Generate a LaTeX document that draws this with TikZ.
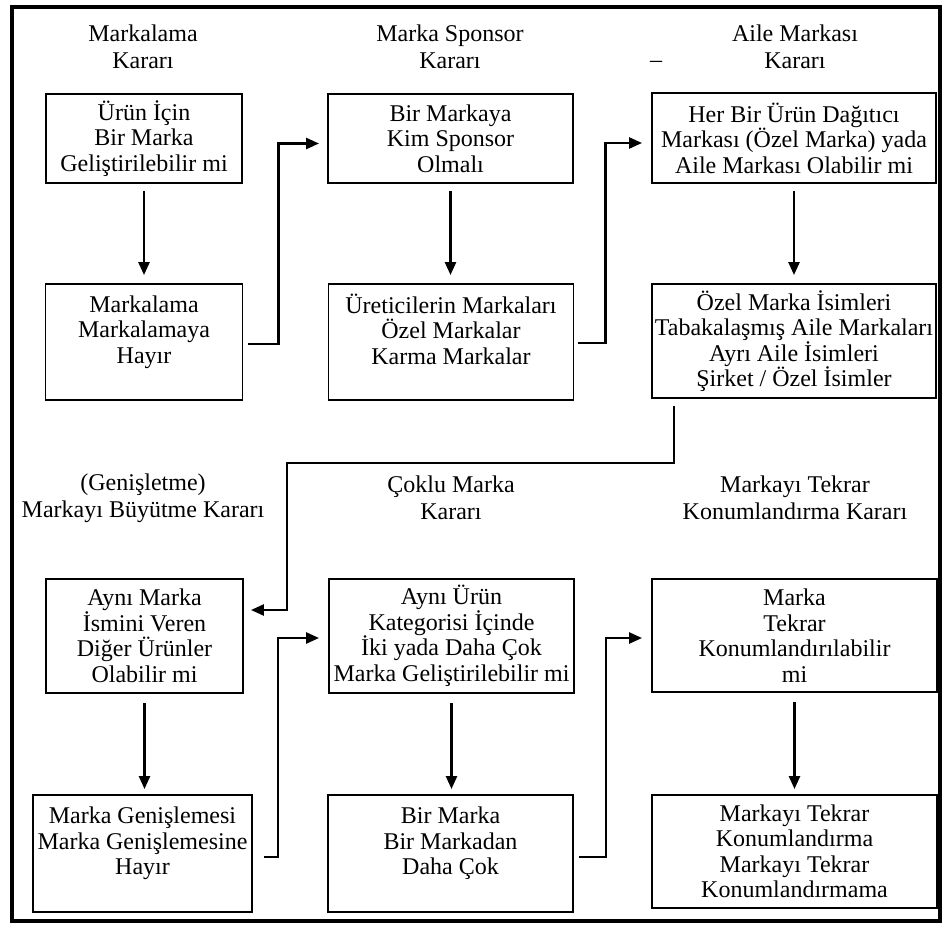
\documentclass[tikz,border=0pt]{standalone}
\usepackage{fontspec}
\setmainfont{Liberation Serif}
\usetikzlibrary{arrows.meta,calc}
\newcommand\diagfont{\fontsize{24}{25.5}\selectfont}
\newcommand\headfont{\fontsize{24}{27}\selectfont}
\begin{document}
\begin{tikzpicture}[x=1pt,y=-1pt,
  box/.style={draw, line width=1.9pt, inner sep=0pt, align=center, font=\diagfont},
  head/.style={inner sep=0pt, align=center, font=\headfont},
  arr/.style={line width=2.5pt, -{Triangle[length=13pt,width=11pt]}}]
\useasboundingbox (0,0) rectangle (944,928);
% outer frame
\draw[line width=4pt] (12,7) rectangle (940,921);

% column headings, upper half
\node[head] (h1) at (143,47) {Markalama\\Kararı};
\node[head] (h2) at (450,47) {Marka Sponsor\\Kararı};
\node[head] (h3) at (795,47) {Aile Markası\\Kararı};
\node[inner sep=0pt, font=\diagfont] (stray) at (656,64) {–};

% upper boxes
\node[box, minimum width=196pt, minimum height=89pt] (b1) at (144,138.5)
  {Ürün İçin\\Bir Marka\\Geliştirilebilir mi};
\node[box, minimum width=245pt, minimum height=89pt] (b2) at (450.5,138.5)
  {Bir Markaya\\Kim Sponsor\\Olmalı};
\node[box, minimum width=284pt, minimum height=90pt] (b3) at (794,138)
  {Her Bir Ürün  Dağıtıcı\\Markası (Özel Marka) yada\\Aile Markası Olabilir mi};
\node[box, minimum width=197pt, minimum height=116pt] (b4) at (144,342)
  {Markalama\\Markalamaya\\Hayır\\\mbox{}};
\node[box, minimum width=245pt, minimum height=116pt] (b5) at (451,342)
  {Üreticilerin Markaları\\Özel Markalar\\Karma Markalar\\\mbox{}};
\node[box, minimum width=284pt, minimum height=114pt] (b6) at (794,341)
  {Özel Marka İsimleri\\Tabakalaşmış Aile Markaları\\Ayrı Aile İsimleri\\Şirket / Özel İsimler};

% column headings, lower half
\node[head] (h4) at (143,498) {(Genişletme)\\Markayı Büyütme Kararı};
\node[head] (h5) at (451,498) {Çoklu Marka\\Kararı};
\node[head] (h6) at (795,498) {Markayı Tekrar\\Konumlandırma Kararı};

% lower boxes
\node[box, minimum width=197pt, minimum height=114pt] (b7) at (144.5,636)
  {Aynı Marka\\İsmini Veren\\Diğer Ürünler\\Olabilir mi};
\node[box, minimum width=245pt, minimum height=114pt] (b8) at (451.5,636)
  {Aynı Ürün\\Kategorisi İçinde\\İki yada Daha Çok\\Marka Geliştirilebilir mi};
\node[box, minimum width=285pt, minimum height=113pt] (b9) at (794.5,635.5)
  {Marka\\Tekrar\\Konumlandırılabilir\\mi};
\node[box, minimum width=219pt, minimum height=117pt] (b10) at (142.5,853.5)
  {Marka Genişlemesi\\Marka Genişlemesine\\Hayır\\\mbox{}};
\node[box, minimum width=245pt, minimum height=117pt] (b11) at (450.5,853.5)
  {Bir Marka\\Bir Markadan\\Daha Çok\\\mbox{}};
\node[box, minimum width=285pt, minimum height=113pt] (b12) at (794.5,851.5)
  {Markayı Tekrar\\Konumlandırma\\Markayı Tekrar\\Konumlandırmama};

% downward arrows inside each column (kept vertical)
\draw[arr, shorten <=7pt, shorten >=8pt] (b1.south) -- (b1.south |- b4.north);
\draw[arr, shorten <=7pt, shorten >=8pt] (b2.south) -- (b2.south |- b5.north);
\draw[arr, shorten <=7pt, shorten >=8pt] (b3.south) -- (b3.south |- b6.north);
\draw[arr, shorten <=9pt, shorten >=5pt] (b7.south) -- (b7.south |- b10.north);
\draw[arr, shorten <=9pt, shorten >=5pt] (b8.south) -- (b8.south |- b11.north);
\draw[arr, shorten <=9pt, shorten >=5pt] (b9.south) -- (b9.south |- b12.north);

% elbow connectors to the next decision
\draw[arr] ($(b4.east)+(5,2)$) -- ++(30,0) |- ($(b2.west)+(-8,5)$);
\draw[arr] ($(b5.east)+(4,1)$) -- ++(27,0) |- ($(b3.west)+(-9,5)$);
\draw[arr] ($(b6.south west)+(23,7)$) |- ++(-387,57) |- ($(b7.east)+(7,-26)$);
\draw[arr] ($(b10.east)+(11,3.5)$) -- ++(14,0) |- ($(b8.west)+(-9,2)$);
\draw[arr] ($(b11.east)+(5,3.5)$) -- ++(27,0) |- ($(b9.west)+(-9,2.5)$);
\end{tikzpicture}
\end{document}
